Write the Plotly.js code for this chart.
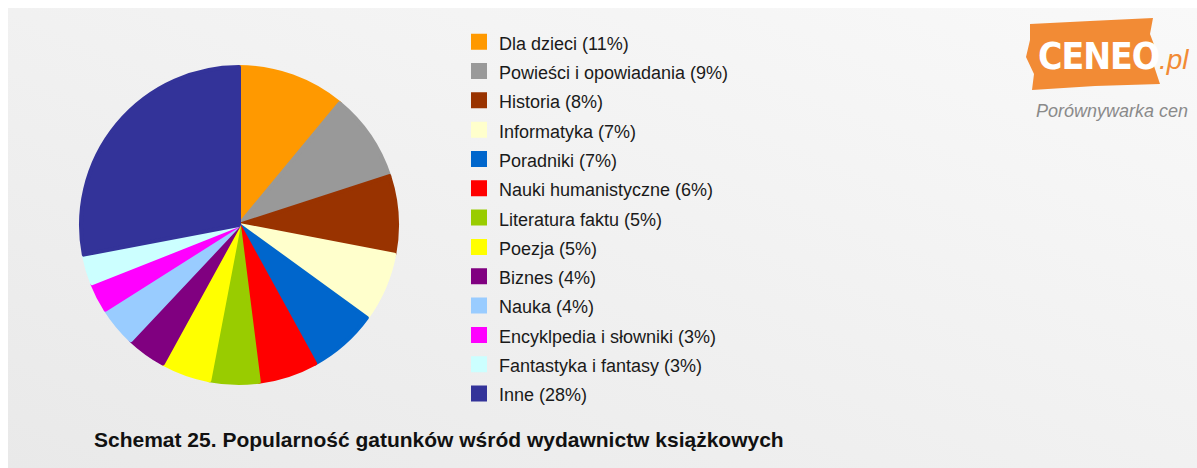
<!DOCTYPE html>
<html>
<head>
<meta charset="utf-8">
<script src="https://cdn.plot.ly/plotly-3.0.1.min.js"></script>
<style>
  html, body { margin: 0; padding: 0; background: #ffffff; }
  #wrap { position: relative; width: 1197px; height: 468px; background: #ffffff; overflow: hidden; }
  #panel { position: absolute; left: 8px; top: 8px; width: 1189px; height: 460px;
           background: linear-gradient(to top right, #e9e9e9 0%, #f1f1f1 50%, #f9f9f9 100%); }
  #chart { position: absolute; left: 0; top: 0; width: 1197px; height: 468px; }
</style>
</head>
<body>
<div id="wrap"><div id="panel"></div><div id="chart"></div></div>
<script>
const categories = [
  "Dla dzieci", "Powieści i opowiadania", "Historia", "Informatyka", "Poradniki",
  "Nauki humanistyczne", "Literatura faktu", "Poezja", "Biznes", "Nauka",
  "Encyklpedia i słowniki", "Fantastyka i fantasy", "Inne"
];
const shares = [11, 9, 8, 7, 7, 6, 5, 5, 4, 4, 3, 3, 28];
const colors = [
  "#FF9900", "#999999", "#993300", "#FFFFCC", "#0066CC",
  "#FF0000", "#99CC00", "#FFFF00", "#800080", "#99CCFF",
  "#FF00FF", "#CCFFFF", "#333399"
];
const chartTitle = "Schemat 25. Popularność gatunków wśród wydawnictw książkowych";

const W = 1197, H = 468;
const cx = 239, cy = 225, r = 158;

const labels = categories.map((c, i) =>
  '<span style="font-size:18px">' + c + ' (' + shares[i] + '%)</span>');

const trace = {
  type: 'pie',
  labels: labels,
  values: shares,
  sort: false,
  direction: 'clockwise',
  rotation: 0,
  textinfo: 'none',
  hoverinfo: 'label+percent',
  marker: { colors: colors, line: { color: colors, width: 4 } },
  domain: { x: [(cx - r) / W, (cx + r) / W], y: [(H - cy - r) / H, (H - cy + r) / H] }
};

const layout = {
  width: W, height: H,
  margin: { l: 0, r: 0, t: 0, b: 0 },
  paper_bgcolor: 'rgba(0,0,0,0)',
  plot_bgcolor: 'rgba(0,0,0,0)',
  font: { family: 'Liberation Sans, Arial, sans-serif', color: '#1a1a1a' },
  showlegend: true,
  legend: {
    x: 459 / W, y: 1 - 22 / H, xanchor: 'left', yanchor: 'top',
    font: { size: 20.25, color: '#1a1a1a', family: 'Liberation Sans, Arial, sans-serif' },
    bgcolor: 'rgba(0,0,0,0)', borderwidth: 0, traceorder: 'normal'
  },
  shapes: [
    { type: 'path', xref: 'paper', yref: 'paper',
      path: 'M ' + (1030 / W) + ' ' + (1 - 24 / H) +
            ' L ' + (1090 / W) + ' ' + (1 - 21 / H) +
            ' L ' + (1153 / W) + ' ' + (1 - 18 / H) +
            ' L ' + (1150 / W) + ' ' + (1 - 34 / H) +
            ' L ' + (1156 / W) + ' ' + (1 - 50 / H) +
            ' L ' + (1154 / W) + ' ' + (1 - 66 / H) +
            ' L ' + (1160 / W) + ' ' + (1 - 84 / H) +
            ' L ' + (1095 / W) + ' ' + (1 - 86 / H) +
            ' L ' + (1032 / W) + ' ' + (1 - 90 / H) +
            ' L ' + (1034 / W) + ' ' + (1 - 74 / H) +
            ' L ' + (1026 / W) + ' ' + (1 - 57 / H) +
            ' L ' + (1030 / W) + ' ' + (1 - 40 / H) + ' Z',
      fillcolor: '#F28B35', line: { width: 0 } }
  ],
  annotations: [
    { text: '<b>' + chartTitle + '</b>', xref: 'paper', yref: 'paper',
      x: 92 / W, y: 1 - 439 / H, xanchor: 'left', yanchor: 'middle', showarrow: false,
      font: { size: 21, color: '#111111', family: 'Liberation Sans, Arial, sans-serif' } },
    { text: '<b><span style="letter-spacing:-1px">CENEO</span></b>', xref: 'paper', yref: 'paper',
      x: 1036 / W, y: 1 - 56 / H, xanchor: 'left', yanchor: 'middle', showarrow: false,
      font: { size: 37, color: '#ffffff', family: 'DejaVu Sans Condensed, Liberation Sans Narrow, Liberation Sans, Arial, sans-serif' } },
    { text: '<i>.pl</i>', xref: 'paper', yref: 'paper',
      x: 1157 / W, y: 1 - 60 / H, xanchor: 'left', yanchor: 'middle', showarrow: false,
      font: { size: 28, color: '#F28B35', family: 'Liberation Sans, Arial, sans-serif' } },
    { text: '<i>Porównywarka cen</i>', xref: 'paper', yref: 'paper',
      x: 1034 / W, y: 1 - 111 / H, xanchor: 'left', yanchor: 'middle', showarrow: false,
      font: { size: 18, color: '#8a8a8a', family: 'Liberation Sans, Arial, sans-serif' } }
  ]
};

Plotly.newPlot('chart', [trace], layout, { displayModeBar: false, staticPlot: true });
</script>
</body>
</html>
